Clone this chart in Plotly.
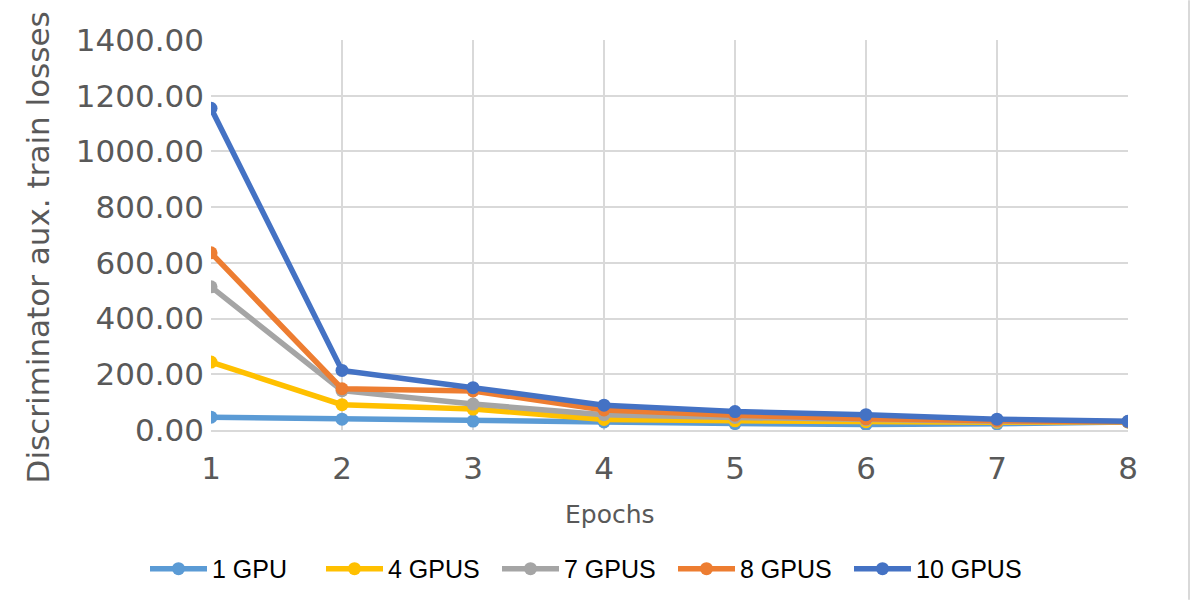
import plotly.graph_objects as go

# Training epochs and discriminator auxiliary losses per GPU configuration
epochs = [1, 2, 3, 4, 5, 6, 7, 8]
series_names = ["1 GPU", "4 GPUS", "7 GPUS", "8 GPUS", "10 GPUS"]
loss_1gpu = [46, 39, 32, 29, 23, 20, 22, 29]
loss_4gpus = [244, 91, 75, 38, 33, 30, 28, 29]
loss_7gpus = [514, 141, 93, 55, 45, 37, 31, 30]
loss_8gpus = [636, 148, 140, 72, 53, 40, 33, 30]
loss_10gpus = [1155, 214, 152, 89, 66, 55, 39, 31]
y_ticks = [0, 200, 400, 600, 800, 1000, 1200, 1400]

series_values = [loss_1gpu, loss_4gpus, loss_7gpus, loss_8gpus, loss_10gpus]
colors = ["#5B9BD5", "#FFC000", "#A5A5A5", "#ED7D31", "#4472C4"]

W, H = 1194, 604
L, R, T, B = 211, 66, 40, 171
plot_w = W - L - R
plot_h = H - T - B


def px_x(px):
    return (px - L) / plot_w


def px_y(py):
    return (T + plot_h - py) / plot_h


fig = go.Figure()
for name, vals, col in zip(series_names, series_values, colors):
    fig.add_trace(go.Scatter(
        x=epochs, y=vals, name=name, mode="lines+markers",
        line=dict(color=col, width=5.5),
        marker=dict(color=col, size=13),
    ))

grid = "#D9D9D9"
text_grey = "#595959"
tick_font = dict(family="DejaVu Sans", size=31, color=text_grey)

fig.update_layout(
    width=W, height=H,
    margin=dict(l=L, r=R, t=T, b=B, pad=0),
    paper_bgcolor="white", plot_bgcolor="white",
    showlegend=True,
    legend=dict(
        orientation="h", x=px_x(145), xanchor="left",
        y=px_y(573), yanchor="middle",
        font=dict(family="Liberation Sans", size=25, color="#000000"),
        itemwidth=57, entrywidth=104, entrywidthmode="pixels",
        tracegroupgap=0,
    ),
    xaxis=dict(
        range=[1, 8], tickvals=epochs, ticktext=[str(e) for e in epochs],
        showgrid=True, gridcolor=grid, gridwidth=2,
        zeroline=False, showline=True, linecolor=grid, linewidth=2,
        ticks="", ticklabelstandoff=10, tickfont=tick_font,
        fixedrange=True,
    ),
    yaxis=dict(
        range=[0, 1400], tickvals=y_ticks, tickformat=".2f",
        showgrid=True, gridcolor=grid, gridwidth=2,
        zeroline=False, showline=False,
        ticks="", ticklabelstandoff=6, tickfont=tick_font,
        fixedrange=True,
    ),
    annotations=[
        dict(
            text="Epochs", xref="paper", yref="paper",
            x=px_x(610), y=px_y(518),
            xanchor="center", yanchor="middle", showarrow=False,
            font=dict(family="DejaVu Sans", size=25, color=text_grey),
        ),
        dict(
            text="Discriminator aux. train losses", xref="paper", yref="paper",
            x=px_x(38), y=px_y(249), textangle=-90,
            xanchor="center", yanchor="middle", showarrow=False,
            font=dict(family="DejaVu Sans", size=31, color=text_grey),
        ),
    ],
    shapes=[dict(
        type="line", xref="paper", yref="paper",
        x0=px_x(1189), x1=px_x(1189),
        y0=px_y(H), y1=px_y(0),
        line=dict(color=grid, width=2),
    )],
)

fig.write_html("out.html")
